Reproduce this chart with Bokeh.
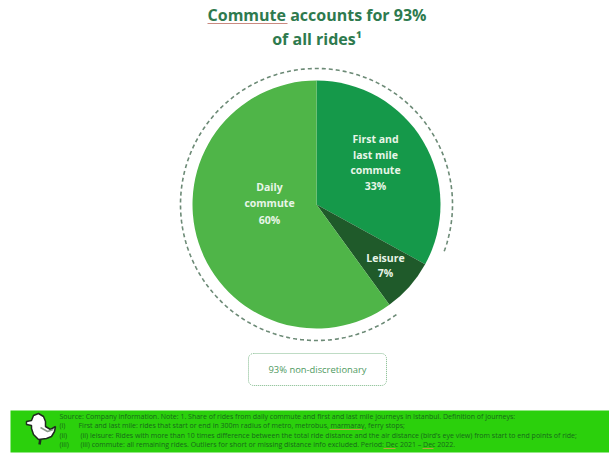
import numpy as np
from bokeh.plotting import figure
from bokeh.models import Range1d
from bokeh.core.properties import value
from bokeh.embed import file_html
from bokeh.resources import INLINE

title_lines = ["Commute accounts for 93%", "of all rides\u00b9"]
shares = [33, 7, 60]
colors = ["#15994a", "#1f5a2a", "#4fb548"]
labels = [["First and", "last mile", "commute", "33%"], ["Leisure", "7%"], ["Daily", "commute", "60%"]]
note_prefix = ["", "(i)", "(ii)", "(iii)"]
note_lines = [
    "Source: Company information. Note: 1. Share of rides from daily commute and first and last mile journeys in Istanbul. Definition of journeys:",
    "First and last mile: rides that start or end in 300m radius of metro, metrobus, marmaray, ferry stops;",
    "(ii) leisure: Rides with more than 10 times difference between the total ride distance and the air distance (bird\u2019s eye view) from start to end points of ride;",
    "(iii) commute: all remaining rides. Outliers for short or missing distance info excluded. Period: Dec 2021 \u2013 Dec 2022.",
]
badge = "93% non-discretionary"

W, H = 609, 453
p = figure(width=W, height=H, x_range=Range1d(0, W), y_range=Range1d(H, 0),
           output_backend="svg", toolbar_location=None, min_border=0)
p.axis.visible = False
p.grid.visible = False
p.outline_line_color = None
p.background_fill_color = "white"

cx, cy, r = 316, 204, 124
start = np.pi / 2
for s, c in zip(shares, colors):
    end = start - s / 100 * 2 * np.pi
    p.wedge([cx], [cy], r, start, end, fill_color=c, line_color=None, direction="clock")
    start = end

theta = np.radians(np.linspace(54, 381, 400))
p.line(cx + 136 * np.cos(theta), cy + 136 * np.sin(theta),
       line_color="#6c8a76", line_width=1.6, line_dash="4 3")


def txt(x, y, s, size, color, weight="normal", align="center", font="Open Sans"):
    p.text([x], [y], text=[s], text_font=value(font), text_font_size=f"{size}px", text_color=color,
           text_font_style=weight, text_align=align, text_baseline="middle")


txt(316.5, 14, title_lines[0], 16, "#2e7a4e", "bold")
txt(316.5, 38, title_lines[1], 16, "#2e7a4e", "bold")
p.line([207, 287], [23, 23], line_color="#c98a80", line_width=1)

for s, y in zip(labels[0], [138, 154, 169, 185]):
    txt(375, y, s, 10.5, "#e8f5e8", "bold")
for s, y in zip(labels[1], [257, 272]):
    txt(385, y, s, 10.5, "#e8f5e8", "bold")
for s, y in zip(labels[2], [186, 202, 219]):
    txt(269, y, s, 10.5, "#e8f5e8", "bold")

p.rect([317], [369], 138, 32, fill_color="white", line_color="#7fb98a", line_width=1, line_dash="1 1",
       border_radius=5)
txt(317, 369, badge, 9.4, "#4f9a5f")

p.quad(left=[10], right=[609], top=[410], bottom=[452], fill_color="#2bd00c", line_color=None)
for pre, s, y, x in zip(note_prefix, note_lines, [416, 425, 435, 444], [59, 78, 80, 80]):
    if pre:
        txt(59, y, pre, 7, "#17691a", "normal", "left")
    txt(x, y, s, 7, "#17691a", "normal", "left")
# spell-check marks in the note
for x0, x1, y in [(329, 362, 429), (383, 395, 448), (422, 433, 448)]:
    p.line([x0, x1], [y, y], line_color="#b8a040", line_width=1)

# bird icon
bx = [33, 38, 43, 45, 45, 50, 55, 54, 51, 46, 38, 33, 31, 31, 26, 26, 31]
by = [415, 413, 416, 421, 426, 429, 426, 431, 436, 438, 439, 434, 428, 425, 424, 421, 420]
p.line([40, 39], [438, 444], line_color="#1e2b1e", line_width=2.5)
p.patch(bx, by, fill_color="white", line_color="#1e2b1e", line_width=1.5)
p.line([40, 47, 53], [427, 431, 429], line_color="#8a9a8a", line_width=1.5)

open("out.html", "w").write(file_html(p, INLINE))
